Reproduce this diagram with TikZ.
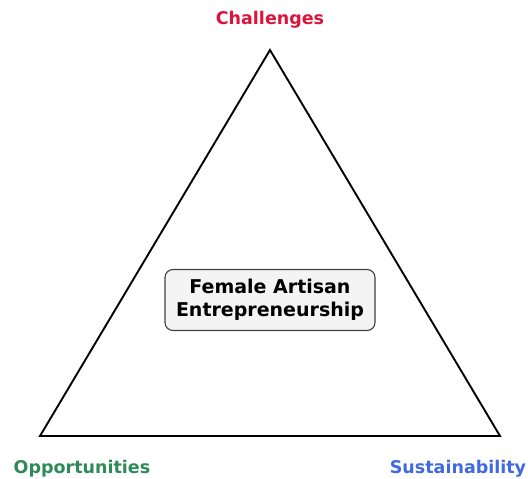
\documentclass[tikz,border=0pt]{standalone}
\usepackage{fontspec}
\setmainfont{DejaVu Sans}
\definecolor{chalred}{HTML}{DC143C}
\definecolor{oppgreen}{HTML}{2E8B57}
\definecolor{susblue}{HTML}{4169E1}
\definecolor{boxfill}{HTML}{F4F4F4}
\definecolor{boxedge}{HTML}{404040}
\begin{document}
\begin{tikzpicture}[x=1pt,y=-1pt,
  corner/.style={font=\bfseries\fontsize{17.5}{20}\selectfont},
  centrebox/.style={draw=boxedge,fill=boxfill,line width=1.1pt,rounded corners=8pt,
    align=center,font=\bfseries\fontsize{19}{23}\selectfont,
    minimum width=210pt,minimum height=61pt,inner sep=0pt}]
\useasboundingbox (0,0) rectangle (528,479);
% triangle corners
\coordinate (top) at (270,50);
\coordinate (bl) at (40,436);
\coordinate (br) at (500,436);
\draw[line width=1.9pt,line join=miter] (top) -- (br) -- (bl) -- cycle;
% centre label
\node[centrebox] (core) at (270,300) {Female Artisan\\Entrepreneurship};
% vertex labels
\node[corner,text=chalred] (chal) at (270,19.5) {Challenges};
\node[corner,text=oppgreen] (opp) at (82,468.5) {Opportunities};
\node[corner,text=susblue] (sus) at (458,468.5) {Sustainability};
\end{tikzpicture}
\end{document}
